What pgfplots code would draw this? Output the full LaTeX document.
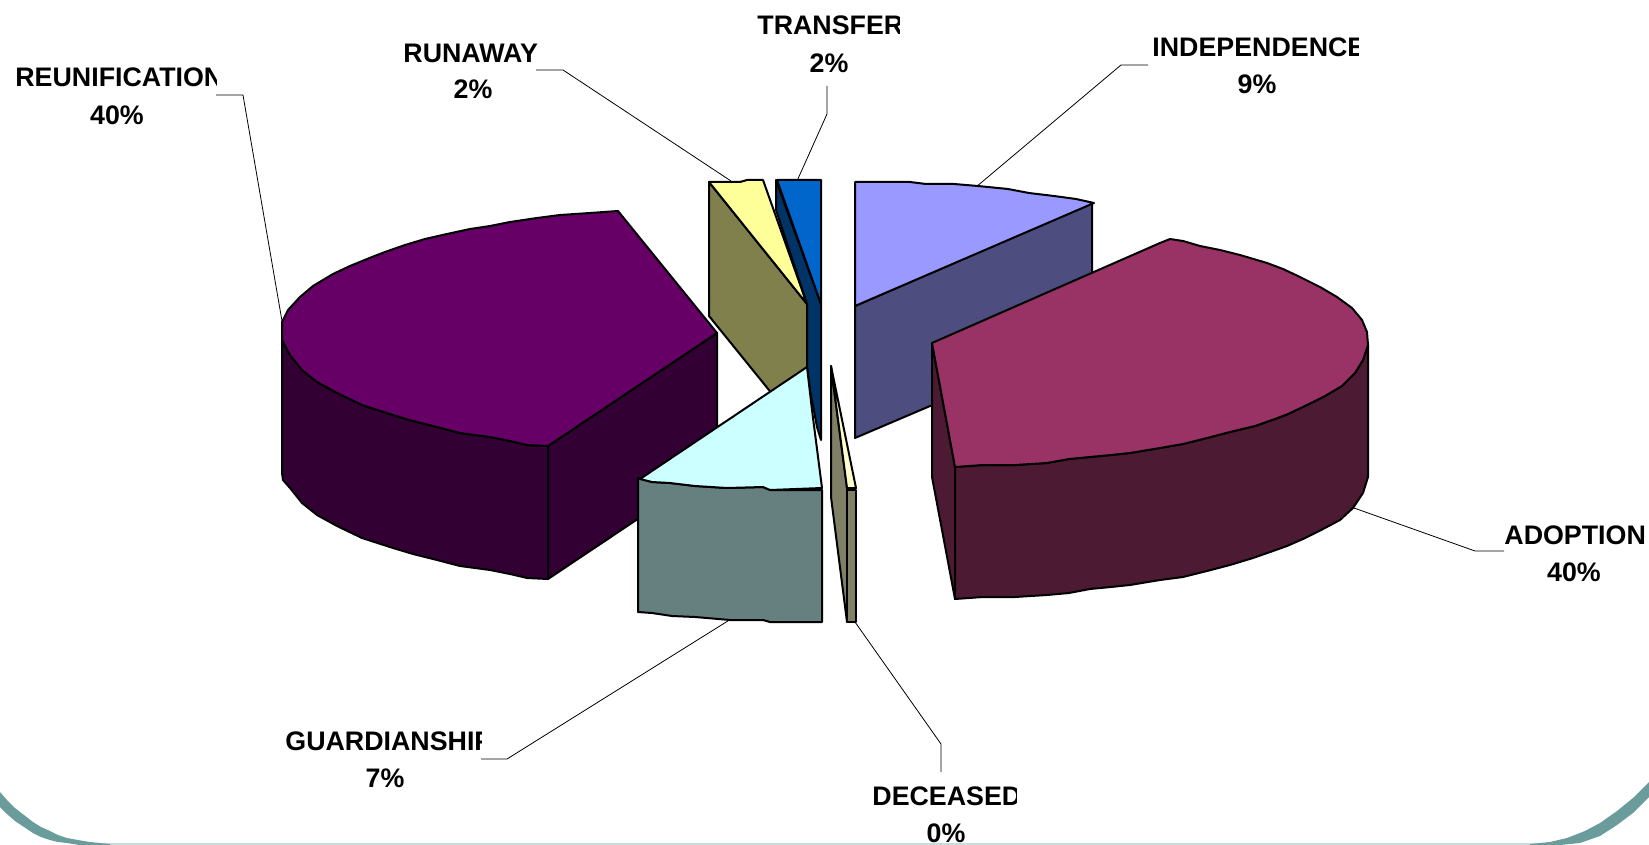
\documentclass[border=0pt]{standalone}
\usepackage{pgfplots}
\pgfplotsset{compat=1.18}
\usepackage{fontspec}
\setmainfont{Liberation Sans}

% one picture pixel = 0.5pt
\definecolor{band}{HTML}{6A9C9C}
\definecolor{bandlight}{HTML}{C8DCDC}

% left edge / centre, baseline, text
\newcommand{\lab}[3]{\node[font=\fontsize{13.4}{16}\selectfont\bfseries, inner sep=0pt, anchor=base west] at (axis cs:#1,#2) {#3};}
\newcommand{\pct}[3]{\node[font=\fontsize{13.4}{16}\selectfont\bfseries, inner sep=0pt, anchor=base] at (axis cs:#1,#2) {#3};}
% the labels are cut off on the right in the original
\newcommand{\cutoff}[2]{\addplot[draw=none, fill=white] coordinates {(#1,#2-24) (#1+16,#2-24) (#1+16,#2+5) (#1,#2+5)} -- cycle;}

\begin{document}
\begin{tikzpicture}
\begin{axis}[
    width=824.5pt, height=422.5pt, scale only axis,
    xmin=0, xmax=1649, ymin=0, ymax=845,
    y dir=reverse,
    hide axis,
    clip=true,
    every axis plot/.append style={line join=round, line width=1pt, draw=black}
]
% keeps the page as large as the slide
\addplot[draw=none] coordinates {(0,0) (1649,845)};

% background band
\addplot[draw=none, fill=bandlight] coordinates {(100,843) (1540,843) (1540,845) (100,845)} -- cycle;
\addplot[draw=none, fill=band] coordinates {(0,792) (7,800) (15,808) (24,815) (33,822) (41,827) (50,831) (58,835) (67,838) (78,840) (90,842) (100,843) (110,844) (110,845) (80,845) (73,844) (67,843) (58,842) (50,840) (41,837) (33,833) (24,827) (15,821) (7,814) (0,807)} -- cycle;
\addplot[draw=none, fill=band] coordinates {(1530,844) (1550,842) (1567,838) (1585,831) (1600,823) (1617,811) (1633,798) (1649,782) (1649,797) (1633,813) (1617,825) (1600,836) (1580,843) (1560,845) (1530,845)} -- cycle;

% leader lines
\addplot[line width=0.4pt] coordinates {(216,95) (243,95) (282,321)};
\addplot[line width=0.4pt] coordinates {(536,70) (563,70) (731,181)};
\addplot[line width=0.4pt] coordinates {(827,86) (827,114) (797,181)};
\addplot[line width=0.4pt] coordinates {(1148,65) (1121,65) (976,187)};
\addplot[line width=0.4pt] coordinates {(1504,551) (1475,551) (1354,508)};
\addplot[line width=0.4pt] coordinates {(855,622) (941,744) (941,772)};
\addplot[line width=0.4pt] coordinates {(731,619) (507,759) (481,759)};

% independence 9%
\addplot[fill={rgb,255:red,77;green,77;blue,128}] coordinates {(855,306) (1092,203) (1092,337) (855,438)} -- cycle;
\addplot[fill={rgb,255:red,153;green,153;blue,255}] coordinates {(855,182) (910,182) (926,184) (954,184) (978,186) (1008,189) (1029,193) (1054,196) (1076,199) (1094,203) (855,306)} -- cycle;

% adoption 40%
\addplot[fill={rgb,255:red,77;green,26;blue,51}] coordinates {(932,343) (955,467) (955,599) (932,477)} -- cycle;
\addplot[fill={rgb,255:red,77;green,26;blue,51}] coordinates {(955,467) (983,465) (1015,465) (1047,463) (1069,459) (1090,457) (1111,455) (1130,453) (1160,448) (1183,444) (1207,438) (1230,432) (1255,426) (1275,419) (1288,414) (1307,405) (1325,396) (1342,386) (1355,373) (1363,360) (1368,345) (1368,477) (1363,493) (1353,508) (1340,520) (1323,529) (1303,539) (1287,546) (1273,551) (1253,558) (1230,565) (1207,571) (1183,577) (1160,580) (1130,585) (1111,587) (1090,589) (1069,593) (1047,595) (1015,597) (983,597) (955,599)} -- cycle;
\addplot[fill={rgb,255:red,153;green,51;blue,102}] coordinates {(932,343) (1160,243) (1170,239) (1183,241) (1200,246) (1220,250) (1240,255) (1267,263) (1283,269) (1300,277) (1320,287) (1337,297) (1352,308) (1362,320) (1367,332) (1368,345) (1363,360) (1355,373) (1342,386) (1325,396) (1307,405) (1288,414) (1275,419) (1255,426) (1230,432) (1207,438) (1183,444) (1160,448) (1130,453) (1111,455) (1090,457) (1069,459) (1047,463) (1015,465) (983,465) (955,467)} -- cycle;

% reunification 40%
\addplot[fill={rgb,255:red,51;green,0;blue,51}] coordinates {(548,446) (717,333) (717,466) (548,579)} -- cycle;
\addplot[fill={rgb,255:red,51;green,0;blue,51}] coordinates {(282,340) (290,355) (302,370) (317,382) (337,393) (362,405) (393,415) (413,421) (437,427) (460,433) (490,437) (510,441) (527,445) (548,446) (548,579) (527,578) (510,574) (490,570) (460,566) (437,560) (413,554) (393,548) (362,538) (337,526) (317,515) (302,503) (290,488) (283,480) (282,473)} -- cycle;
\addplot[fill={rgb,255:red,102;green,0;blue,102}] coordinates {(618,211) (590,213) (560,215) (537,218) (510,222) (490,226) (470,229) (447,234) (425,239) (405,245) (385,252) (372,257) (350,266) (333,274) (313,286) (300,297) (288,310) (282,322) (282,340) (290,355) (302,370) (317,382) (337,393) (362,405) (393,415) (413,421) (437,427) (460,433) (490,437) (510,441) (527,445) (548,446) (717,333)} -- cycle;

% runaway 2%
\addplot[fill={rgb,255:red,128;green,128;blue,77}] coordinates {(709,182) (807,304) (807,437) (709,316)} -- cycle;
\addplot[fill={rgb,255:red,255;green,255;blue,153}] coordinates {(709,182) (740,182) (747,180) (763,180) (807,304)} -- cycle;

% transfer 2%
\addplot[fill={rgb,255:red,0;green,51;blue,102}] coordinates {(776,180) (821,304) (821,440) (817,427) (810,390) (807,367) (807,304) (776,210)} -- cycle;
\addplot[fill={rgb,255:red,0;green,102;blue,204}] coordinates {(777,180) (821,180) (821,304)} -- cycle;

% guardianship 7%
\addplot[fill={rgb,255:red,102;green,128;blue,128}] coordinates {(638,478) (652,482) (670,483) (695,486) (727,488) (763,487) (770,490) (822,490) (822,622) (770,622) (763,620) (730,620) (695,617) (672,616) (652,613) (638,612)} -- cycle;
\addplot[fill={rgb,255:red,204;green,255;blue,255}] coordinates {(807,367) (812,410) (822,488) (770,490) (763,487) (727,488) (695,486) (670,483) (652,482) (640,479)} -- cycle;

% deceased 0%
\addplot[fill={rgb,255:red,128;green,128;blue,102}] coordinates {(831,366) (847,488) (847,622) (831,497)} -- cycle;
\addplot[fill={rgb,255:red,255;green,255;blue,204}] coordinates {(831,366) (856,488) (847,488)} -- cycle;
\addplot[fill={rgb,255:red,128;green,128;blue,102}] coordinates {(847,490) (856,490) (856,622) (847,622)} -- cycle;

% labels
\lab{15}{87}{REUNIFICATION}
\cutoff{217}{87}
\pct{117}{125}{40\%}
\lab{403}{63}{RUNAWAY}
\pct{473}{99}{2\%}
\lab{757}{35}{TRANSFER}
\cutoff{900}{35}
\pct{829}{73}{2\%}
\lab{1152}{57}{INDEPENDENCE}
\cutoff{1359}{57}
\pct{1257}{94}{9\%}
\lab{1504}{544}{ADOPTION}
\pct{1574}{581}{40\%}
\lab{285}{750}{GUARDIANSHIP}
\cutoff{482}{750}
\pct{385}{787}{7\%}
\lab{872}{805}{DECEASED}
\cutoff{1017}{805}
\pct{946}{842}{0\%}
\end{axis}
\end{tikzpicture}
\end{document}
